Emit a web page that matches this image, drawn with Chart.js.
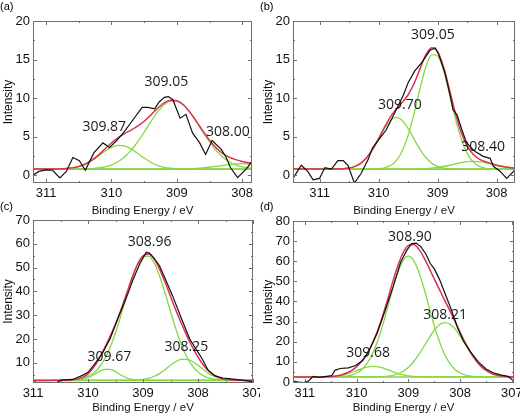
<!DOCTYPE html>
<html>
<head>
<meta charset="utf-8">
<script src="https://cdn.jsdelivr.net/npm/chart.js@4.4.1/dist/chart.umd.min.js"></script>
<style>
  html, body { margin: 0; padding: 0; background: #fff; }
  #wrap { position: relative; width: 520px; height: 419px; overflow: hidden; background: #fff; }
  .panel { position: absolute; width: 260px; height: 219px; }
</style>
</head>
<body>
<div id="wrap">
  <div class="panel" style="left:0;top:0"><canvas id="chartA" width="260" height="219"></canvas></div>
  <div class="panel" style="left:260px;top:0"><canvas id="chartB" width="260" height="219"></canvas></div>
  <div class="panel" style="left:0;top:200px"><canvas id="chartC" width="260" height="219"></canvas></div>
  <div class="panel" style="left:260px;top:200px"><canvas id="chartD" width="260" height="219"></canvas></div>
</div>
<script>
// ---- panel (a) ----
const aRawE = [311.2, 311.11, 311.0, 310.9, 310.79, 310.69, 310.59, 310.49, 310.40, 310.27, 310.13, 310.03, 309.92, 309.80, 309.67, 309.53, 309.44, 309.34, 309.27, 309.19, 309.13, 309.06, 308.95, 308.86, 308.76, 308.65, 308.56, 308.46, 308.32, 308.25, 308.18, 308.07, 307.93, 307.85];
const aRawI = [0.0, 0.5, 0.7, 0.65, -0.35, 0.5, 2.3, 1.9, 0.65, 2.9, 4.2, 3.6, 4.5, 5.7, 7.2, 8.8, 8.8, 8.6, 9.5, 10.1, 10.2, 9.8, 7.4, 7.9, 5.5, 4.2, 2.7, 4.5, 3.35, 2.4, 1.0, -0.3, 0.9, 1.8];
const aFitE = [311.2, 311.1, 311.0, 310.9, 310.8, 310.7, 310.6, 310.5, 310.4, 310.3, 310.2, 310.1, 310.0, 309.9, 309.8, 309.7, 309.6, 309.5, 309.4, 309.3, 309.2, 309.1, 309.0, 308.9, 308.8, 308.7, 308.6, 308.5, 308.4, 308.3, 308.2, 308.1, 308.0, 307.9, 307.8];
const aEnvelope = [0.8, 0.8, 0.8, 0.81, 0.83, 0.87, 0.96, 1.15, 1.46, 1.96, 2.62, 3.40, 4.18, 4.84, 5.40, 5.86, 6.37, 7.01, 7.80, 8.64, 9.35, 9.74, 9.67, 9.14, 8.19, 6.99, 5.73, 4.56, 3.58, 2.85, 2.35, 2.03, 1.80, 1.62, 1.46];
const aPeak1 = [0.8, 0.8, 0.8, 0.8, 0.82, 0.86, 0.95, 1.13, 1.43, 1.89, 2.47, 3.10, 3.62, 3.88, 3.82, 3.43, 2.85, 2.23, 1.69, 1.29, 1.04, 0.91, 0.84, 0.81, 0.8, 0.8, 0.8, 0.8, 0.8, 0.8, 0.8, 0.8, 0.8, 0.8, 0.8];
const aPeak2 = [0.8, 0.8, 0.8, 0.8, 0.8, 0.8, 0.8, 0.82, 0.83, 0.87, 0.95, 1.10, 1.36, 1.76, 2.38, 3.23, 4.32, 5.58, 6.91, 8.15, 9.11, 9.63, 9.63, 9.11, 8.15, 6.91, 5.58, 4.32, 3.23, 2.38, 1.76, 1.36, 1.10, 0.95, 0.87];
const aPeak3 = [0.8, 0.8, 0.8, 0.8, 0.8, 0.8, 0.8, 0.8, 0.8, 0.8, 0.8, 0.8, 0.8, 0.8, 0.8, 0.8, 0.8, 0.8, 0.8, 0.8, 0.8, 0.8, 0.8, 0.82, 0.84, 0.88, 0.95, 1.04, 1.15, 1.27, 1.39, 1.47, 1.50, 1.47, 1.39];
const aBase = [0.8, 0.8];
const aTicksX = [311, 310, 309, 308];
const aTicksY = [0, 5, 10, 15, 20];

// ---- panel (b) ----
const bRawE = [311.45, 311.31, 311.2, 311.11, 311.0, 310.91, 310.80, 310.69, 310.60, 310.52, 310.41, 310.30, 310.18, 310.10, 310.01, 309.87, 309.72, 309.58, 309.50, 309.39, 309.27, 309.13, 309.04, 308.99, 308.88, 308.79, 308.74, 308.67, 308.59, 308.51, 308.37, 308.23, 308.11, 308.06, 307.94, 307.83, 307.69];
const bRawI = [-0.4, 1.3, 0.5, -0.6, -0.4, 1.0, 0.8, 1.9, 1.9, 1.3, -1.0, 0.2, 2.0, 3.6, 4.5, 5.9, 8.2, 10.4, 12.0, 13.5, 14.6, 16.2, 16.5, 15.8, 13.4, 10.4, 8.5, 7.8, 5.9, 4.2, 3.1, 2.45, 2.2, 1.2, 0.5, -0.4, 0.7];
const bFitE = [311.5, 311.4, 311.3, 311.2, 311.1, 311.0, 310.9, 310.8, 310.7, 310.6, 310.5, 310.4, 310.3, 310.2, 310.1, 310.0, 309.9, 309.8, 309.7, 309.6, 309.5, 309.4, 309.3, 309.2, 309.1, 309.0, 308.9, 308.8, 308.7, 308.6, 308.5, 308.4, 308.3, 308.2, 308.1, 308.0, 307.9, 307.8, 307.7, 307.6];
const bEnvelope = [0.8, 0.8, 0.8, 0.8, 0.8, 0.8, 0.8, 0.8, 0.82, 0.85, 0.94, 1.16, 1.57, 2.30, 3.38, 4.75, 6.24, 7.57, 8.61, 9.45, 10.44, 11.89, 13.79, 15.60, 16.54, 16.03, 14.03, 11.11, 8.07, 5.54, 3.80, 2.74, 2.14, 1.78, 1.52, 1.31, 1.14, 1.01, 0.92, 0.86];
const bPeak1 = [0.8, 0.8, 0.8, 0.8, 0.8, 0.8, 0.8, 0.8, 0.82, 0.85, 0.94, 1.16, 1.57, 2.30, 3.37, 4.70, 6.07, 7.11, 7.5, 7.11, 6.07, 4.70, 3.37, 2.30, 1.57, 1.16, 0.94, 0.85, 0.82, 0.8, 0.8, 0.8, 0.8, 0.8, 0.8, 0.8, 0.8, 0.8, 0.8, 0.8];
const bPeak2 = [0.8, 0.8, 0.8, 0.8, 0.8, 0.8, 0.8, 0.8, 0.8, 0.8, 0.8, 0.8, 0.8, 0.8, 0.81, 0.85, 0.97, 1.26, 1.91, 3.14, 5.17, 7.99, 11.19, 14.04, 15.65, 15.46, 13.55, 10.56, 7.37, 4.70, 2.84, 1.74, 1.18, 0.94, 0.84, 0.81, 0.8, 0.8, 0.8, 0.8];
const bPeak3 = [0.8, 0.8, 0.8, 0.8, 0.8, 0.8, 0.8, 0.8, 0.8, 0.8, 0.8, 0.8, 0.8, 0.8, 0.8, 0.8, 0.8, 0.8, 0.8, 0.8, 0.8, 0.8, 0.83, 0.86, 0.92, 1.01, 1.14, 1.3, 1.48, 1.64, 1.76, 1.8, 1.76, 1.64, 1.48, 1.3, 1.14, 1.01, 0.92, 0.86];
const bBase = [0.8, 0.8];
const bTicksX = [311, 310, 309, 308];
const bTicksY = [0, 5, 10, 15, 20];

// ---- panel (c) ----
const cRawE = [311.0, 310.96, 310.88, 310.72, 310.6, 310.49, 310.28, 310.10, 310.0, 309.9, 309.75, 309.6, 309.45, 309.3, 309.18, 309.05, 308.94, 308.88, 308.80, 308.70, 308.58, 308.46, 308.30, 308.15, 308.03, 307.92, 307.82, 307.69, 307.55, 307.40, 307.24, 307.0];
const cRawI = [0.5, 2.0, -0.5, -0.5, 1.3, 2.7, 3.0, 4.7, 6.0, 8.8, 13.5, 20.0, 29.0, 37.5, 45.0, 52.0, 56.5, 56.0, 54.0, 50.8, 44.5, 38.0, 28.5, 20.0, 15.5, 11.5, 7.0, 4.5, 3.6, 3.2, 2.8, 2.1];
const cFitE = [311.0, 310.9, 310.8, 310.7, 310.6, 310.5, 310.4, 310.3, 310.2, 310.1, 310.0, 309.9, 309.8, 309.7, 309.6, 309.5, 309.4, 309.3, 309.2, 309.1, 309.0, 308.9, 308.8, 308.7, 308.6, 308.5, 308.4, 308.3, 308.2, 308.1, 308.0, 307.9, 307.8, 307.7, 307.6, 307.5, 307.4, 307.3, 307.2, 307.1, 307.0];
const cEnvelope = [2.6, 2.6, 2.6, 2.6, 2.61, 2.63, 2.68, 2.81, 3.13, 3.86, 5.36, 7.95, 11.68, 16.13, 21.02, 26.30, 32.27, 38.99, 45.71, 51.41, 54.93, 55.66, 53.67, 49.44, 43.91, 37.89, 31.96, 26.38, 21.22, 16.53, 12.40, 8.99, 6.41, 4.69, 3.63, 3.06, 2.79, 2.66, 2.62, 2.6, 2.6];
const cPeak1 = [2.6, 2.6, 2.6, 2.6, 2.6, 2.6, 2.6, 2.63, 2.73, 3.02, 3.70, 4.86, 6.26, 7.26, 7.26, 6.26, 4.86, 3.70, 3.02, 2.73, 2.63, 2.6, 2.6, 2.6, 2.6, 2.6, 2.6, 2.6, 2.6, 2.6, 2.6, 2.6, 2.6, 2.6, 2.6, 2.6, 2.6, 2.6, 2.6, 2.6, 2.6];
const cPeak2 = [2.6, 2.6, 2.6, 2.6, 2.6, 2.63, 2.68, 2.78, 3.00, 3.44, 4.26, 5.69, 8.02, 11.47, 16.36, 22.64, 30.01, 37.87, 45.24, 51.13, 54.53, 54.84, 52.05, 46.58, 39.41, 31.57, 24.03, 17.51, 12.35, 8.60, 6.08, 4.49, 3.55, 3.07, 2.81, 2.69, 2.64, 2.61, 2.6, 2.6, 2.6];
const cPeak3 = [2.6, 2.6, 2.6, 2.6, 2.6, 2.6, 2.6, 2.6, 2.6, 2.6, 2.6, 2.6, 2.6, 2.6, 2.6, 2.6, 2.6, 2.62, 2.65, 2.75, 2.97, 3.42, 4.22, 5.46, 7.10, 8.92, 10.53, 11.47, 11.47, 10.53, 8.92, 7.10, 5.46, 4.22, 3.42, 2.97, 2.75, 2.65, 2.62, 2.6, 2.6];
const cBase = [2.6, 2.6];
const cTicksX = [311, 310, 309, 308, 307];
const cTicksY = [10, 20, 30, 40, 50, 60, 70];

// ---- panel (d) ----
const dRawE = [311.23, 311.13, 311.03, 310.93, 310.84, 310.72, 310.58, 310.48, 310.42, 310.32, 310.16, 310.02, 309.88, 309.76, 309.6, 309.45, 309.3, 309.15, 309.03, 308.94, 308.85, 308.76, 308.66, 308.58, 308.50, 308.40, 308.30, 308.18, 308.05, 307.94, 307.80, 307.65, 307.50, 307.36, 307.20, 307.08, 306.96];
const dRawI = [0.5, 0.0, -0.3, 0.5, 2.8, 2.3, 2.8, 3.2, 5.8, 6.7, 7.0, 8.2, 10.8, 15.5, 24.5, 35.5, 47.0, 59.5, 65.5, 68.8, 69.0, 67.2, 63.5, 59.0, 56.2, 51.0, 44.5, 36.5, 27.0, 20.5, 15.0, 10.0, 6.5, 4.6, 3.4, 2.8, 0.5];
const dFitE = [311.3, 311.2, 311.1, 311.0, 310.9, 310.8, 310.7, 310.6, 310.5, 310.4, 310.3, 310.2, 310.1, 310.0, 309.9, 309.8, 309.7, 309.6, 309.5, 309.4, 309.3, 309.2, 309.1, 309.0, 308.9, 308.8, 308.7, 308.6, 308.5, 308.4, 308.3, 308.2, 308.1, 308.0, 307.9, 307.8, 307.7, 307.6, 307.5, 307.4, 307.3, 307.2, 307.1, 307.0, 306.9];
const dEnvelope = [2.5, 2.5, 2.5, 2.5, 2.5, 2.5, 2.53, 2.59, 2.72, 2.98, 3.48, 4.33, 5.67, 7.66, 10.42, 14.15, 19.02, 25.22, 32.69, 41.19, 50.01, 58.10, 64.35, 67.85, 68.29, 66.02, 61.81, 56.65, 51.21, 45.91, 40.70, 35.48, 30.11, 24.71, 19.49, 14.80, 10.88, 7.86, 5.72, 4.30, 3.44, 2.96, 2.71, 2.59, 2.54];
const dPeak1 = [2.5, 2.5, 2.5, 2.5, 2.5, 2.5, 2.53, 2.58, 2.69, 2.91, 3.30, 3.90, 4.72, 5.70, 6.67, 7.44, 7.79, 7.63, 7.02, 6.10, 5.10, 4.20, 3.51, 3.04, 2.76, 2.62, 2.55, 2.52, 2.5, 2.5, 2.5, 2.5, 2.5, 2.5, 2.5, 2.5, 2.5, 2.5, 2.5, 2.5, 2.5, 2.5, 2.5, 2.5, 2.5];
const dPeak2 = [2.5, 2.5, 2.5, 2.5, 2.5, 2.5, 2.5, 2.5, 2.53, 2.57, 2.68, 2.93, 3.45, 4.46, 6.25, 9.21, 13.70, 20.01, 27.99, 37.19, 46.59, 54.81, 60.48, 62.5, 60.48, 54.81, 46.59, 37.19, 27.99, 20.01, 13.70, 9.21, 6.25, 4.46, 3.45, 2.93, 2.68, 2.57, 2.53, 2.5, 2.5, 2.5, 2.5, 2.5, 2.5];
const dPeak3 = [2.5, 2.5, 2.5, 2.5, 2.5, 2.5, 2.5, 2.5, 2.5, 2.5, 2.5, 2.5, 2.5, 2.5, 2.5, 2.5, 2.53, 2.58, 2.68, 2.90, 3.32, 4.09, 5.36, 7.31, 10.05, 13.59, 17.67, 21.94, 25.72, 28.40, 29.5, 28.77, 26.36, 22.75, 18.54, 14.37, 10.70, 7.79, 5.69, 4.30, 3.44, 2.96, 2.71, 2.59, 2.54];
const dBase = [2.5, 2.5];
const dTicksX = [311, 310, 309, 308, 307];
const dTicksY = [0, 10, 20, 30, 40, 50, 60, 70, 80];

const RED = '#e02d52';
const GREEN = '#84d843';
const AXIS = '#6f6f6f';
const SANS = '"Liberation Sans", Arial, sans-serif';

const toPts = (xs, ys) => xs.map((x, i) => ({ x: x, y: ys[i] }));

const makePanel = (id, p) => {
  const ends = [p.fitE[0], p.fitE[p.fitE.length - 1]];
  const smooth = (ys, color, w) => ({
    data: toPts(p.fitE, ys), borderColor: color, borderWidth: w,
    cubicInterpolationMode: 'monotone', pointRadius: 0, fill: false
  });

  // box round the plot with inward ticks, peak labels and panel letter
  const decor = {
    id: 'decor',
    afterDatasetsDraw(chart) {
      const { ctx, chartArea: a } = chart;
      const sx = chart.scales.x, sy = chart.scales.y;
      ctx.save();
      ctx.strokeStyle = AXIS;
      ctx.lineWidth = 1;
      ctx.beginPath();
      const seg = (x1, y1, x2, y2) => { ctx.moveTo(x1, y1); ctx.lineTo(x2, y2); };
      const tickX = (v, len) => {
        const px = Math.round(sx.getPixelForValue(v)) + 0.5;
        seg(px, a.bottom, px, a.bottom - len);
        seg(px, a.top, px, a.top + len);
      };
      const tickY = (v, len) => {
        const py = Math.round(sy.getPixelForValue(v)) + 0.5;
        seg(a.left, py, a.left + len, py);
        seg(a.right, py, a.right - len, py);
      };
      for (let v = Math.ceil(p.xMin / 0.5) * 0.5; v <= p.xMax; v += 0.5) tickX(v, Number.isInteger(v) ? 4 : 2);
      for (let v = Math.ceil(p.yMin / p.yMinor) * p.yMinor; v <= p.yMax + 1e-9; v += p.yMinor) {
        tickY(v, p.ticksY.includes(Math.round(v * 100) / 100) ? 4 : 2);
      }
      ctx.stroke();
      ctx.strokeRect(Math.round(a.left) + 0.5, Math.round(a.top) + 0.5,
        Math.round(a.right - a.left) - 1, Math.round(a.bottom - a.top) - 1);

      ctx.fillStyle = '#1a1a1a';
      ctx.font = '14px "Open Sans", sans-serif';
      ctx.textAlign = 'center';
      ctx.textBaseline = 'middle';
      p.notes.forEach((n) => {
        ctx.fillText(n.text, sx.getPixelForValue(n.x), sy.getPixelForValue(n.y));
      });
      ctx.font = '11px ' + SANS;
      ctx.textAlign = 'left';
      ctx.textBaseline = 'top';
      ctx.fillStyle = '#000';
      ctx.fillText(p.letter, 0, 1);
      ctx.restore();
    }
  };

  return new Chart(document.getElementById(id), {
    type: 'line',
    data: {
      datasets: [
        { data: toPts(p.rawE, p.rawI), borderColor: '#111', borderWidth: 1.2, tension: 0, pointRadius: 0, fill: false },
        smooth(p.env, RED, 1.5),
        smooth(p.peaks[0], GREEN, 1.3),
        smooth(p.peaks[1], GREEN, 1.3),
        smooth(p.peaks[2], GREEN, 1.3),
        { data: toPts(ends, p.base), borderColor: GREEN, borderWidth: 1.6, pointRadius: 0, fill: false }
      ]
    },
    options: {
      responsive: false,
      animation: false,
      events: [],
      layout: { padding: { top: p.padTop, right: p.padRight, left: 0, bottom: 0 } },
      plugins: { legend: { display: false }, tooltip: { enabled: false } },
      scales: {
        x: {
          type: 'linear', reverse: true, min: p.xMin, max: p.xMax,
          grid: { display: false, drawTicks: false }, border: { display: false },
          afterBuildTicks: (s) => { s.ticks = p.ticksX.map((v) => ({ value: v })); },
          afterFit: (s) => { s.height = 36; s.paddingLeft = 0; s.paddingRight = 0; },
          ticks: { color: '#111', padding: 3, maxRotation: 0, minRotation: 0, autoSkip: false, font: { family: SANS, size: 13 } },
          title: { display: true, text: 'Binding Energy / eV', color: '#111', font: { family: SANS, size: 11.5 }, padding: { top: 0, bottom: p.titlePad } }
        },
        y: {
          min: p.yMin, max: p.yMax,
          grid: { display: false, drawTicks: false }, border: { display: false },
          afterBuildTicks: (s) => { s.ticks = p.ticksY.map((v) => ({ value: v })); },
          afterFit: (s) => { s.width = 33; s.paddingTop = 0; s.paddingBottom = 0; },
          ticks: { color: '#111', padding: 3, autoSkip: false, font: { family: SANS, size: 13 } },
          title: { display: true, text: 'Intensity', color: '#111', font: { family: SANS, size: 12 }, padding: { top: 1, bottom: 0 } }
        }
      }
    },
    plugins: [decor]
  });
};

makePanel('chartA', {
  rawE: aRawE, rawI: aRawI, fitE: aFitE, env: aEnvelope, peaks: [aPeak1, aPeak2, aPeak3], base: aBase,
  ticksX: aTicksX, ticksY: aTicksY, xMin: 307.85, xMax: 311.2, yMin: -1, yMax: 20, yMinor: 2.5,
  padTop: 21, padRight: 8, titlePad: 1, letter: '(a)',
  notes: [{ text: '309.87', x: 310.11, y: 6.3 }, { text: '309.05', x: 309.16, y: 12.1 }, { text: '308.00', x: 308.22, y: 5.6 }]
});

makePanel('chartB', {
  rawE: bRawE, rawI: bRawI, fitE: bFitE, env: bEnvelope, peaks: [bPeak1, bPeak2, bPeak3], base: bBase,
  ticksX: bTicksX, ticksY: bTicksY, xMin: 307.69, xMax: 311.45, yMin: -1, yMax: 20, yMinor: 2.5,
  padTop: 21, padRight: 5, titlePad: 1, letter: '(b)',
  notes: [{ text: '309.70', x: 309.64, y: 9.1 }, { text: '309.05', x: 309.08, y: 18.2 }, { text: '308.40', x: 308.23, y: 3.7 }]
});

makePanel('chartC', {
  rawE: cRawE, rawI: cRawI, fitE: cFitE, env: cEnvelope, peaks: [cPeak1, cPeak2, cPeak3], base: cBase,
  ticksX: cTicksX, ticksY: cTicksY, xMin: 307.0, xMax: 311.0, yMin: 1.5, yMax: 70, yMinor: 5,
  padTop: 20, padRight: 7, titlePad: 4, letter: '(c)',
  notes: [{ text: '309.67', x: 309.61, y: 12.5 }, { text: '308.96', x: 308.88, y: 60.9 }, { text: '308.25', x: 308.21, y: 16.7 }]
});

makePanel('chartD', {
  rawE: dRawE, rawI: dRawI, fitE: dFitE, env: dEnvelope, peaks: [dPeak1, dPeak2, dPeak3], base: dBase,
  ticksX: dTicksX, ticksY: dTicksY, xMin: 306.96, xMax: 311.23, yMin: -0.5, yMax: 80, yMinor: 5,
  padTop: 21, padRight: 6, titlePad: 4, letter: '(d)',
  notes: [{ text: '309.68', x: 309.78, y: 14.5 }, { text: '308.90', x: 308.97, y: 72.2 }, { text: '308.21', x: 308.29, y: 33.5 }]
});
</script>
</body>
</html>
